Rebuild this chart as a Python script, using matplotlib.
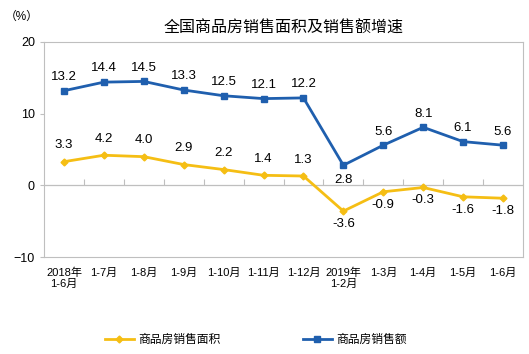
import matplotlib
matplotlib.use("Agg")
import matplotlib.pyplot as plt
import numpy as np

plt.rcParams['font.family'] = ['Liberation Sans', 'Noto Sans CJK SC', 'DejaVu Sans']

months = ['2018年\n1-6月', '1-7月', '1-8月', '1-9月', '1-10月', '1-11月', '1-12月',
          '2019年\n1-2月', '1-3月', '1-4月', '1-5月', '1-6月']
area = [3.3, 4.2, 4.0, 2.9, 2.2, 1.4, 1.3, -3.6, -0.9, -0.3, -1.6, -1.8]
sales = [13.2, 14.4, 14.5, 13.3, 12.5, 12.1, 12.2, 2.8, 5.6, 8.1, 6.1, 5.6]

yellow = '#F5BE14'
blue = '#1F5FAE'
grey = '#bfbfbf'

fig = plt.figure(figsize=(5.29, 3.54), dpi=100)
ax = fig.add_axes([44 / 529, 1 - 257 / 354, 479 / 529, 215 / 354])

x = np.arange(len(months))
ax.axhline(0, color=grey, lw=0.9, zorder=1)
ax.plot(x, area, color=yellow, lw=2, marker='D', ms=3.5, label='商品房销售面积', zorder=3)
ax.plot(x, sales, color=blue, lw=2, marker='s', ms=4.5, label='商品房销售额', zorder=3)

# small tick marks on the zero line between categories
zero_ax = ax.secondary_xaxis(1 / 3)
zero_ax.set_xticks(np.arange(0.5, len(months) - 1, 1.0))
zero_ax.tick_params(direction='in', length=4, color=grey, labeltop=False, labelbottom=False)
zero_ax.spines['top'].set_visible(False)
zero_ax.spines['bottom'].set_visible(False)

fs = 9.5
for i, v in enumerate(area):
    if v >= 0:
        ax.annotate(f'{v:.1f}', (i, v), xytext=(0, 7.5), textcoords='offset points',
                    ha='center', va='bottom', fontsize=fs)
    else:
        ax.annotate(f'{v:.1f}', (i, v), xytext=(0, -5), textcoords='offset points',
                    ha='center', va='top', fontsize=fs)
for i, v in enumerate(sales):
    if i == 7:
        ax.annotate(f'{v:.1f}', (i, v), xytext=(0, -6), textcoords='offset points',
                    ha='center', va='top', fontsize=fs)
    else:
        ax.annotate(f'{v:.1f}', (i, v), xytext=(0, 5.5), textcoords='offset points',
                    ha='center', va='bottom', fontsize=fs)

ax.set_xlim(-0.5, len(months) - 0.5)
ax.set_ylim(-10, 20)
ax.set_yticks([-10, 0, 10, 20])
ax.set_xticks(x)
ax.set_xticklabels(months, fontsize=8, linespacing=1.1)
ax.tick_params(axis='x', length=0, pad=8)
ax.tick_params(axis='y', length=3, color=grey, labelsize=9)
for s in ax.spines.values():
    s.set_color(grey)
    s.set_linewidth(0.8)

fig.text(22 / 529, 1 - 17 / 354, '（%）', fontsize=8.5, ha='center', va='center')
fig.text(284 / 529, 1 - 28 / 354, '全国商品房销售面积及销售额增速', fontsize=11.5,
         ha='center', va='center')

fig.legend(loc='center', bbox_to_anchor=(256 / 529, 1 - 340 / 354), ncol=2, frameon=False,
           fontsize=8.5, columnspacing=7, handlelength=2.4, handletextpad=0.4)

fig.savefig('out.png', dpi=100)
